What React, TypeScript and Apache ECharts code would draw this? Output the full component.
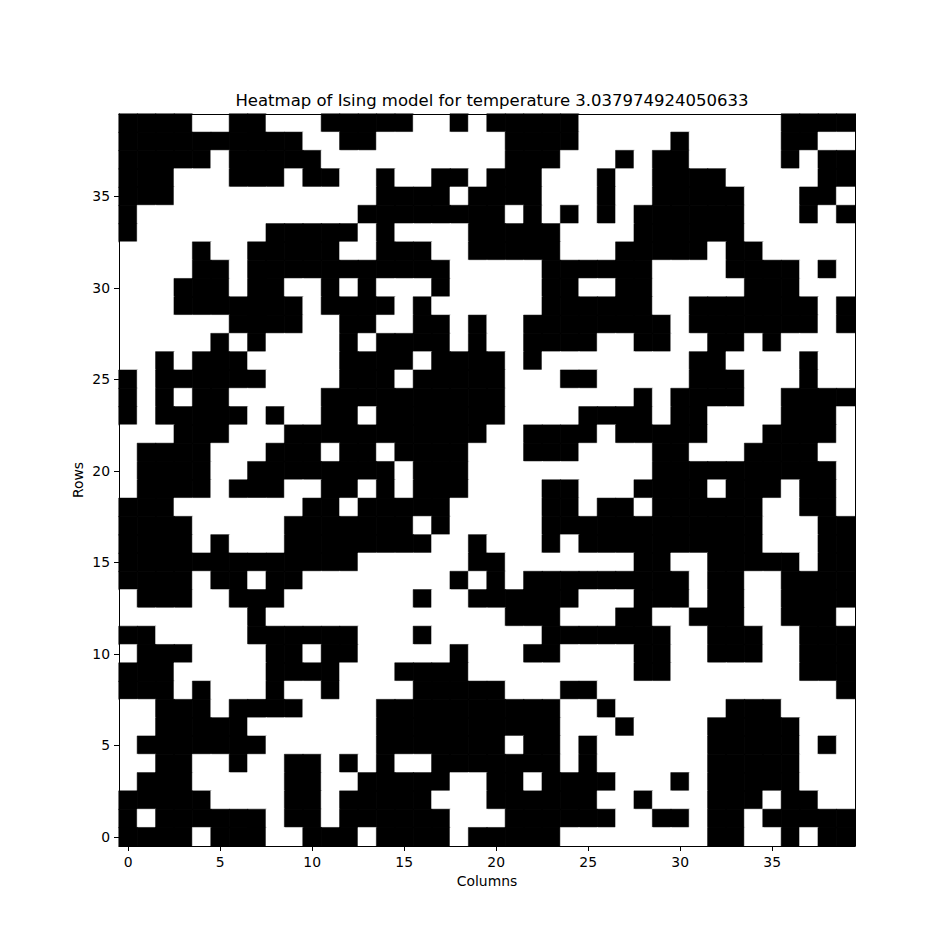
import { useEffect, useRef } from 'react';
import * as echarts from 'echarts';

// Spin lattice, top row (row 39) first.
// '#' = spin -1 (black), '.' = spin +1 (white)
const spinRows: string[] = [
  '####..##...#####..#.#####...........####',
  '##########..##.......####.....#.....##..',
  '#####.#####..........###...#.##.....#.##',
  '###...###.##..#..##.###...#..####.....##',
  '###...........####.####...#..#####...##.',
  '#............########.#.#.#.######...#.#',
  '#.......#####.#....#####....######......',
  '....#..#####..###..#####...#####.##.....',
  '....##.###########.....######....####.#.',
  '...###.##..#.#...#.....##..##.....###...',
  '...#######.####.#......######..#######.#',
  '......####..##..##.#..########.#######.#',
  '.....#.#....#.####.#..####..##..##.#....',
  '..#.###.....####.####.#........##....#..',
  '#.######....###.#####...##.....###...#..',
  '#.#.##.....##########.......#.####..####',
  '#.#####.#..##.#######....####.##....###.',
  '...###...###########..####.#####...####.',
  '.####...###.##.####...###....##...####..',
  '.####..########.###..........##########.',
  '.####.###..##.#.###....##...####.###.##.',
  '###.......##.#####.....##.##.######..##.',
  '####.....#######.#.....############...##',
  '####.#...########..#...#.##########...##',
  '#############......##.......##..#####.##',
  '####.##.##........#.#.#########.##..####',
  '.###..###.......#..######...###.##..####',
  '.......#.............###...##..###..###.',
  '##.....######...#......#######..###..###',
  '.###....##.##.....#...##....##..###..###',
  '###.....####...####.........##.......###',
  '###.#...#..#....#####...##.............#',
  '..###.####....##########..#......###....',
  '..#####.......##########...#....#####...',
  '.#######......#######.##.#......#####.#.',
  '..##..#..##.#.#..#######.#......#####...',
  '.###.....##..#####..##.####...#.#####...',
  '#####....##.#####...######..#...###.##..',
  '#.######.##.######...######..##.##.#####',
  '####.###..###.####.#####........##..#.##',
];

const temperature = 3.037974924050633;
const tickValues = [0, 5, 10, 15, 20, 25, 30, 35];
const columns = spinRows[0].split('').map((_, i) => String(i));
const rows = spinRows.map((_, i) => String(i));

const FONT = 'DejaVu Sans';

export default function App() {
  const chartRef = useRef<HTMLDivElement>(null);

  useEffect(() => {
    if (!chartRef.current) return;
    document.body.style.margin = '0';
    const chart = echarts.init(chartRef.current, null, { renderer: 'svg' });

    const n = spinRows.length;
    const cells: any[] = [];
    spinRows.forEach((line, r) => {
      line.split('').forEach((ch, c) => {
        const spin = ch === '#' ? -1 : 1;
        const color = spin < 0 ? '#000000' : '#ffffff';
        cells.push({
          value: [c, n - 1 - r, spin],
          itemStyle: { borderColor: color, borderWidth: 0.5 },
        });
      });
    });

    const showTick = (idx: number) => tickValues.includes(idx);

    const axisCommon = {
      type: 'category' as const,
      z: 10,
      nameLocation: 'middle' as const,
      nameMoveOverlap: false,
      nameTextStyle: { fontFamily: FONT, fontSize: 13.9, color: '#000' },
      axisLine: { show: true, lineStyle: { color: '#000', width: 1 } },
      axisTick: {
        show: true,
        alignWithLabel: true,
        interval: showTick,
        length: 5,
        lineStyle: { color: '#000', width: 1 },
      },
      axisLabel: {
        interval: showTick,
        margin: 9,
        fontFamily: FONT,
        fontSize: 13.9,
        color: '#000',
      },
      splitLine: { show: false },
    };

    // top and right spines
    const spineOnly = {
      type: 'category' as const,
      z: 10,
      axisLine: { show: true, onZero: false, lineStyle: { color: '#000', width: 1 } },
      axisTick: { show: false },
      axisLabel: { show: false },
      splitLine: { show: false },
    };

    const option: any = {
      animation: false,
      backgroundColor: '#ffffff',
      title: {
        text: `Heatmap of Ising model for temperature ${temperature}`,
        left: 487,
        top: 87,
        textAlign: 'center',
        textStyle: {
          fontFamily: FONT,
          fontSize: 16.5,
          fontWeight: 'normal',
          color: '#000',
        },
      },
      grid: {
        left: 119,
        right: 95,
        top: 114,
        bottom: 104,
      },
      xAxis: [
        {
          ...axisCommon,
          data: columns,
          name: 'Columns',
          nameGap: 28,
        },
        { ...spineOnly, position: 'top', data: columns },
      ],
      yAxis: [
        {
          ...axisCommon,
          data: rows,
          name: 'Rows',
          nameGap: 34,
        },
        { ...spineOnly, position: 'right', data: rows },
      ],
      visualMap: {
        type: 'piecewise',
        show: false,
        dimension: 2,
        pieces: [
          { value: -1, color: '#000000' },
          { value: 1, color: '#ffffff' },
        ],
      },
      series: [
        {
          type: 'heatmap',
          data: cells,
          emphasis: { disabled: true },
        },
      ],
    };

    chart.setOption(option);

    return () => {
      chart.dispose();
    };
  }, []);

  return <div ref={chartRef} style={{ width: '950px', height: '950px' }} />;
}
